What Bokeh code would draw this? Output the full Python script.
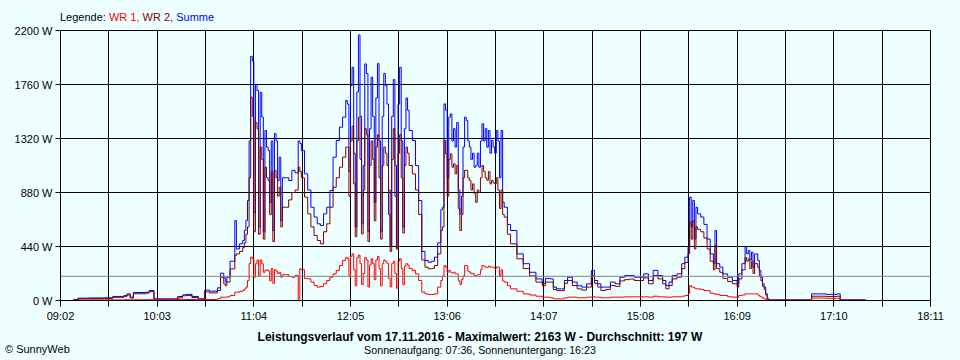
from bokeh.plotting import figure
from bokeh.layouts import column
from bokeh.models import FixedTicker, PrintfTickFormatter, Span, Div
from bokeh.embed import file_html
from bokeh.resources import INLINE

# ---------------- data ----------------
x_tick_labels = ["09:02", "10:03", "11:04", "12:05", "13:06", "14:07",
                 "15:08", "16:09", "17:10", "18:11"]
y_ticks = [0, 440, 880, 1320, 1760, 2200]
average_w = 197

legend_prefix = "Legende:"
series_names = ["WR 1", "WR 2", "Summe"]
series_colors = ["#FF0000", "#800000", "#0000FF"]

title_text = "Leistungsverlauf vom 17.11.2016 - Maximalwert: 2163 W - Durchschnitt: 197 W"
sun_text = "Sonnenaufgang: 07:36, Sonnenuntergang: 16:23"
credit_text = "\u00a9 SunnyWeb"

times = [
    # 09:10 - 11:00
    "09:10", "09:13", "09:20", "09:30", "09:35", "09:42", "09:44", "09:46", "09:48", "09:56",
    "09:58", "10:01", "10:14", "10:16", "10:19", "10:21", "10:25", "10:29", "10:33", "10:36",
    "10:41", "10:43", "10:45", "10:46", "10:47", "10:49", "10:52", "10:53", "10:55", "10:57",
    "10:58", "10:59", "11:00",
    # 11:01 - 11:22
    "11:01", "11:02", "11:03", "11:04", "11:05", "11:06", "11:07", "11:08", "11:09", "11:10",
    "11:11", "11:12", "11:13", "11:14", "11:15", "11:16", "11:17", "11:18", "11:19", "11:20",
    "11:21", "11:22",
    # 11:24 - 12:02
    "11:24", "11:26", "11:28", "11:30", "11:32", "11:33", "11:34", "11:36", "11:38", "11:40",
    "11:42", "11:44", "11:46", "11:48", "11:50", "11:52", "11:54", "11:56", "11:58", "12:00",
    "12:02",
    # 12:03 - 12:42
    "12:03", "12:04", "12:05", "12:06", "12:07", "12:08", "12:09", "12:10", "12:11", "12:12",
    "12:13", "12:14", "12:15", "12:16", "12:17", "12:18", "12:19", "12:20", "12:21", "12:22",
    "12:23", "12:24", "12:25", "12:26", "12:27", "12:28", "12:29", "12:30", "12:31", "12:32",
    "12:33", "12:34", "12:35", "12:36", "12:37", "12:38", "12:39", "12:40", "12:41", "12:42",
    # 12:44 - 13:02
    "12:44", "12:46", "12:48", "12:50", "12:52", "12:54", "12:56", "12:58", "13:00", "13:02",
    # 13:03 - 13:42
    "13:03", "13:04", "13:05", "13:06", "13:07", "13:08", "13:09", "13:10", "13:11", "13:12",
    "13:13", "13:14", "13:15", "13:16", "13:17", "13:18", "13:19", "13:20", "13:21", "13:22",
    "13:23", "13:24", "13:25", "13:26", "13:27", "13:28", "13:29", "13:30", "13:31", "13:32",
    "13:33", "13:34", "13:35", "13:36", "13:37", "13:38", "13:39", "13:40", "13:41", "13:42",
    # 13:44 - 17:30
    "13:44", "13:46",
    "13:50", "13:54", "13:58", "14:02", "14:06", "14:08", "14:11", "14:13", "14:15", "14:18",
    "14:20", "14:22", "14:25", "14:28", "14:31", "14:34", "14:36", "14:37", "14:39", "14:41",
    "14:43", "14:46", "14:49", "14:52", "14:55", "14:58", "15:01", "15:04", "15:07", "15:10",
    "15:13", "15:16", "15:19", "15:22", "15:24", "15:26", "15:28", "15:31", "15:34", "15:36",
    "15:38", "15:39", "15:40", "15:41", "15:42", "15:43", "15:44", "15:46", "15:48", "15:50",
    "15:52", "15:54", "15:55", "15:56", "15:58", "16:00", "16:03", "16:06", "16:09", "16:10",
    "16:12", "16:14", "16:15", "16:16", "16:17", "16:18", "16:19", "16:20", "16:22", "16:23",
    "16:24", "16:25", "16:26", "16:27", "16:28", "16:29", "16:55", "16:56", "17:05", "17:12",
    "17:14", "17:30",
]

wr1 = [
    2, 4, 5, 5, 5, 6, 6, 6, 6, 7,
    7, 7, 7, 8, 8, 8, 8, 8, 8, 8,
    14, 27, 27, 27, 30, 41, 68, 68, 75, 81,
    95, 109, 163,
    300, 353, 340, 190, 300, 330, 200, 330, 300, 230,
    245, 250, 240, 160, 260, 140, 250, 240, 220, 230,
    190, 210,
    210, 195, 190, 204, 0, 258, 250, 180, 176, 150,
    122, 109, 115, 136, 163, 190, 217, 245, 285, 326,
    350,
    340, 200, 360, 380, 250, 120, 350, 370, 300, 130,
    220, 350, 330, 110, 290, 340, 300, 170, 330, 360,
    260, 120, 300, 330, 320, 300, 180, 110, 300, 320,
    220, 100, 320, 340, 260, 130, 280, 300, 290, 260,
    245, 217, 163, 68, 54, 49, 49, 54, 109, 163,
    200, 285, 270, 230, 245, 230, 225, 230, 217, 217,
    160, 130, 170, 200, 285, 285, 240, 230, 217, 220,
    204, 204, 210, 210, 250, 285, 280, 272, 270, 280,
    272, 272, 270, 260, 272, 272, 200, 250, 160, 150,
    120, 95,
    75, 54, 45, 35, 27, 27, 22, 14, 14, 14,
    22, 27, 27, 22, 22, 27, 27, 30, 27, 27,
    22, 22, 27, 27, 27, 30, 30, 30, 30, 30,
    27, 35, 30, 30, 27, 27, 30, 30, 35, 41,
    54, 122, 110, 109, 100, 95, 95, 90, 81, 81,
    60, 54, 54, 50, 41, 41, 30, 27, 27, 41,
    45, 54, 54, 54, 54, 54, 54, 54, 45, 35,
    27, 20, 14, 8, 4, 2, 2, 20, 18, 18,
    2, 2,
]

wr2 = [
    5, 14, 15, 16, 26, 34, 45, 20, 55, 60,
    72, 6, 6, 22, 38, 40, 24, 6, 70, 62,
    81, 190, 136, 120, 150, 258, 367, 380, 400, 430,
    470, 540, 600,
    1000, 1657, 1500, 560, 1450, 1400, 540, 1250, 1150, 500,
    1086, 1000, 978, 700, 1050, 480, 1060, 1000, 850, 923,
    600, 760,
    760, 820, 880, 900, 1086, 1050, 1000, 842, 706, 600,
    530, 489, 462, 560, 625, 760, 923, 1000, 1086, 1168,
    1250,
    1250, 850, 1300, 1420, 950, 520, 1300, 1494, 1150, 543,
    900, 1400, 1350, 480, 1100, 1300, 1150, 650, 1250, 1350,
    1000, 500, 1100, 1250, 1200, 1100, 700, 400, 1150, 1400,
    850, 420, 1200, 1350, 1000, 550, 1100, 1250, 1200, 1100,
    1032, 900, 700, 330, 272, 258, 262, 285, 380, 570,
    600, 1304, 1195, 850, 1150, 1195, 1086, 1113, 1032, 1100,
    750, 570, 700, 1000, 1060, 1060, 1000, 978, 900, 950,
    870, 800, 900, 880, 1000, 1100, 1050, 1000, 980, 1050,
    950, 978, 960, 950, 1000, 900, 750, 900, 700, 679,
    540, 462,
    340, 260, 200, 150, 120, 150, 150, 90, 81, 81,
    140, 163, 122, 95, 85, 109, 109, 200, 140, 109,
    81, 90, 122, 115, 160, 170, 175, 163, 163, 185,
    136, 204, 176, 136, 95, 122, 176, 190, 260, 310,
    380, 640, 500, 650, 420, 600, 580, 560, 510, 420,
    320, 250, 450, 260, 230, 180, 155, 136, 109, 176,
    250, 350, 320, 340, 260, 320, 220, 300, 270, 200,
    160, 115, 90, 45, 10, 3, 3, 35, 33, 35,
    3, 3,
]

summe = [
    8, 19, 21, 22, 33, 40, 54, 27, 65, 68,
    81, 14, 14, 32, 45, 50, 32, 14, 85, 76,
    103, 223, 185, 150, 190, 320, 652, 420, 462, 489,
    570, 652, 815,
    1300, 1990, 1950, 720, 1760, 1711, 600, 1697, 1494, 560,
    1385, 1250, 1222, 800, 1300, 570, 1360, 1300, 978, 1168,
    652, 1000,
    1000, 978, 1060, 1040, 1300, 1280, 1222, 1032, 900, 760,
    680, 625, 611, 706, 760, 896, 1168, 1304, 1412, 1494,
    1630,
    1600, 1050, 1750, 1900, 1200, 600, 1700, 2163, 1500, 625,
    1100, 1928, 1850, 560, 1400, 1820, 1500, 800, 1650, 1930,
    1300, 560, 1500, 1850, 1750, 1600, 900, 450, 1500, 1800,
    1100, 430, 1600, 1900, 1300, 600, 1400, 1650, 1550, 1385,
    1304, 1100, 815, 400, 326, 312, 320, 353, 470, 740,
    760, 1602, 1550, 1000, 1494, 1520, 1300, 1400, 1250, 1450,
    900, 706, 850, 1250, 1494, 1467, 1300, 1250, 1150, 1200,
    1086, 1100, 1200, 1086, 1300, 1440, 1300, 1400, 1250, 1385,
    1200, 1304, 1250, 1200, 1385, 1300, 1000, 1385, 800, 760,
    620, 570,
    380, 300, 230, 176, 140, 180, 176, 109, 95, 95,
    163, 190, 150, 120, 109, 136, 136, 245, 163, 136,
    109, 109, 150, 136, 190, 204, 204, 190, 190, 217,
    163, 245, 204, 163, 122, 150, 204, 217, 300, 353,
    435, 842, 600, 815, 500, 760, 706, 680, 620, 500,
    380, 300, 570, 300, 272, 217, 190, 163, 136, 217,
    300, 435, 380, 407, 330, 394, 270, 380, 326, 245,
    190, 136, 109, 54, 14, 5, 5, 54, 50, 54,
    5, 5,
]

assert len(times) == len(wr1) == len(wr2) == len(summe), (
    len(times), len(wr1), len(wr2), len(summe))


# ---------------- helpers ----------------
def to_min(s):
    h, m = s.split(":")
    return int(h) * 60 + int(m)


x = [to_min(t) for t in times]
tick_pos = [to_min(t) for t in x_tick_labels]
minor_pos = [(a + b) / 2 for a, b in zip(tick_pos[:-1], tick_pos[1:])]

BG = "#EEFFFF"
FONT = "Liberation Sans"
W = 960

# ---------------- main chart (page y 22..324, frame 60..930 x 30..300) ----------------
p = figure(width=W, height=302,
           x_range=(tick_pos[0], tick_pos[-1]), y_range=(y_ticks[0], y_ticks[-1]),
           output_backend="svg", toolbar_location=None,
           min_border_left=60, min_border_right=30,
           min_border_top=8, min_border_bottom=24)
p.margin = (0, 0, 0, 0)

p.background_fill_color = BG
p.border_fill_color = BG
p.outline_line_color = "black"

xt = FixedTicker(ticks=tick_pos, minor_ticks=minor_pos)
p.xaxis.ticker = xt
p.xgrid.ticker = xt
p.xaxis.major_label_overrides = {tp: lbl for tp, lbl in zip(tick_pos, x_tick_labels)}
yt = FixedTicker(ticks=y_ticks, minor_ticks=[])
p.yaxis.ticker = yt
p.ygrid.ticker = yt
p.yaxis.formatter = PrintfTickFormatter(format="%d W")

for g in (p.xgrid, p.ygrid):
    g.grid_line_color = "black"
    g.grid_line_alpha = 1.0
    g.grid_line_width = 1
p.xgrid.minor_grid_line_color = "black"
p.xgrid.minor_grid_line_alpha = 1.0

for ax in (p.xaxis, p.yaxis):
    ax.axis_line_color = "black"
    ax.major_tick_line_color = "black"
    ax.major_tick_in = 0
    ax.major_label_text_font = FONT
    ax.major_label_text_font_size = "11px"
    ax.major_label_text_color = "black"
p.xaxis.major_tick_out = 6
p.xaxis.minor_tick_out = 6
p.xaxis.minor_tick_in = 0
p.xaxis.minor_tick_line_color = "black"
p.xaxis.major_label_standoff = 3
p.yaxis.major_tick_out = 5
p.yaxis.minor_tick_line_color = None
p.yaxis.major_label_standoff = 3

p.add_layout(Span(location=average_w, dimension="width",
                  line_color="#808080", line_width=1))

p.step(x, summe, mode="after", line_color=series_colors[2], line_width=1)
p.step(x, wr2, mode="after", line_color=series_colors[1], line_width=1)
p.step(x, wr1, mode="after", line_color=series_colors[0], line_width=1)

# ---------------- texts outside the plot frame ----------------
base_style = (f"position:relative;width:{W}px;font-family:'{FONT}';font-size:11px;"
              f"line-height:14px;color:#000;white-space:nowrap;background:{BG};")

legend_spans = " ".join(
    f'<span style="color:{c}">{n}{"," if i < len(series_names) - 1 else ""}</span>'
    for i, (n, c) in enumerate(zip(series_names, series_colors)))
legend_html = (f'<div style="{base_style}height:22px;">'
               f'<span style="position:absolute;left:60px;top:10px;">'
               f'{legend_prefix} {legend_spans}</span></div>')

footer_html = (f'<div style="{base_style}height:36px;">'
               f'<div style="position:absolute;left:0;width:{W}px;top:6px;'
               f'text-align:center;font-weight:bold;font-size:12px;">{title_text}</div>'
               f'<div style="position:absolute;left:0;width:{W}px;top:19px;'
               f'text-align:center;font-size:10.7px;">{sun_text}</div>'
               f'<div style="position:absolute;left:5px;top:18px;">{credit_text}</div>'
               f'</div>')

legend_div = Div(text=legend_html, width=W, height=22, margin=(0, 0, 0, 0),
                 styles={"background-color": BG})
footer_div = Div(text=footer_html, width=W, height=36, margin=(0, 0, 0, 0),
                 styles={"background-color": BG})

layout = column(legend_div, p, footer_div, spacing=0, margin=(0, 0, 0, 0),
                styles={"background-color": BG})

open("out.html", "w").write(file_html(layout, INLINE))
